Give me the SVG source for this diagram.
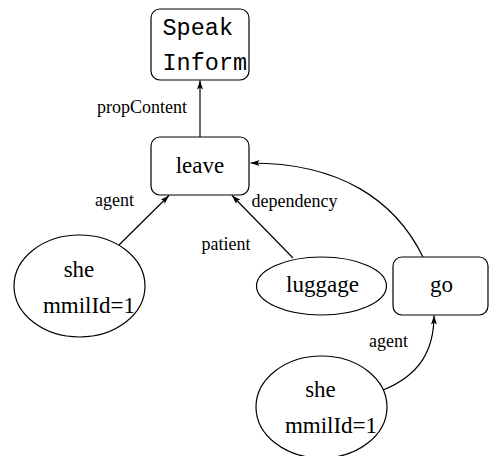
<svg xmlns="http://www.w3.org/2000/svg" width="489" height="456" viewBox="0 0 489 456">
<style>
.box{fill:#fff;stroke:#000;stroke-width:1.2}
.ell{fill:#fff;stroke:#000;stroke-width:1.2}
.edge{fill:none;stroke:#000;stroke-width:1.2}
.nt{font-family:"Liberation Serif","Times New Roman",serif;font-size:23px;fill:#000;text-anchor:middle}
.mono{font-family:"Liberation Mono","Courier New",monospace;font-size:23.5px;fill:#000}
.lbl{font-family:"Liberation Serif","Times New Roman",serif;font-size:18px;fill:#000}
</style>
<defs>
<marker id="arr" markerUnits="userSpaceOnUse" markerWidth="10" markerHeight="8" refX="9" refY="3" orient="auto">
<path d="M0,0 L9,3 L0,6 L2,3 z" fill="#000"/>
</marker>
</defs>
<rect width="489" height="456" fill="#fff"/>
<g id="connectors">
<line class="edge" x1="200" y1="137" x2="200" y2="80.5" marker-end="url(#arr)"/>
<text class="lbl" x="97" y="112.5">propContent</text>
<line class="edge" x1="119" y1="245" x2="169" y2="195.5" marker-end="url(#arr)"/>
<text class="lbl" x="95" y="206">agent</text>
<line class="edge" x1="293" y1="258" x2="232" y2="195.5" marker-end="url(#arr)"/>
<text class="lbl" x="201.5" y="249.5">patient</text>
<path class="edge" d="M423,257 C395,200 340,163 250.5,163" marker-end="url(#arr)"/>
<text class="lbl" x="251.5" y="206.5">dependency</text>
<path class="edge" d="M383,390 C420,375 434,350 434,315.5" marker-end="url(#arr)"/>
<text class="lbl" x="369" y="346.5">agent</text>
</g>
<g id="speak">
<rect class="box" x="151" y="9" width="98" height="71" rx="9"/>
<text class="mono" x="162.5" y="35">Speak</text>
<text class="mono" x="162.5" y="70">Inform</text>
</g>
<g id="leave">
<rect class="box" x="151" y="137" width="98" height="58" rx="9"/>
<text class="nt" x="200" y="173">leave</text>
</g>
<g id="she1">
<ellipse class="ell" cx="79.5" cy="286" rx="65.5" ry="51"/>
<text class="nt" x="79" y="277">she</text>
<text class="nt" x="89" y="313">mmilId=1</text>
</g>
<g id="luggage">
<ellipse class="ell" cx="321.5" cy="286" rx="65" ry="29"/>
<text class="nt" x="322.5" y="291.5">luggage</text>
</g>
<g id="go">
<rect class="box" x="393" y="257" width="95" height="58" rx="9"/>
<text class="nt" x="441.5" y="291.5">go</text>
</g>
<g id="she2">
<ellipse class="ell" cx="321.5" cy="407" rx="65.5" ry="51"/>
<text class="nt" x="320.5" y="397">she</text>
<text class="nt" x="331" y="433">mmilId=1</text>
</g>
</svg>
